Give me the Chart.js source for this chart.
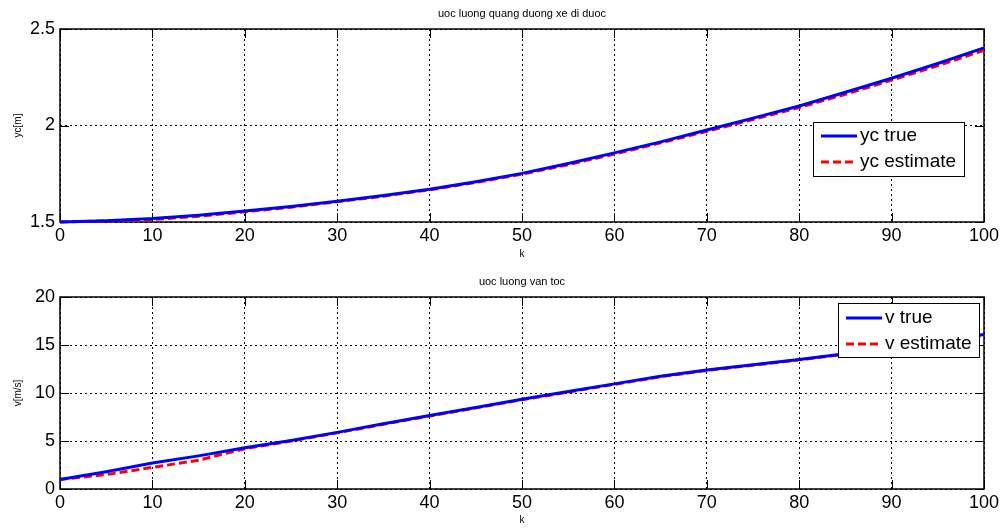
<!DOCTYPE html>
<html>
<head>
<meta charset="utf-8">
<script src="https://cdn.jsdelivr.net/npm/chart.js@4.4.0/dist/chart.umd.min.js"></script>
<style>
  html, body { margin: 0; padding: 0; background: #fff; }
  #wrap { position: relative; width: 1005px; height: 529px; }
  canvas { position: absolute; left: 0; }
  #top { top: 0; }
  #bot { top: 264px; }
</style>
</head>
<body>
<div id="wrap">
  <canvas id="top" width="1005" height="264"></canvas>
  <canvas id="bot" width="1005" height="265"></canvas>
</div>
<script>
// sample index k
const kSteps = [0, 5, 10, 15, 20, 25, 30, 35, 40, 45, 50, 55, 60, 65, 70, 75, 80, 85, 90, 95, 100];

// distance (yc) - true vs estimate
const ycTrue = [1.500, 1.507, 1.518, 1.535, 1.557, 1.580, 1.607, 1.637, 1.670, 1.709, 1.752,
                1.803, 1.858, 1.915, 1.977, 2.038, 2.101, 2.172, 2.245, 2.321, 2.402];
const ycEstimate = [1.500, 1.505, 1.513, 1.530, 1.553, 1.577, 1.605, 1.634, 1.667, 1.705, 1.748,
                    1.797, 1.852, 1.910, 1.970, 2.031, 2.093, 2.162, 2.235, 2.310, 2.390];

// velocity - true vs estimate
const vTrue = [1.0, 1.8, 2.7, 3.45, 4.3, 5.05, 5.9, 6.8, 7.65, 8.5, 9.35,
               10.15, 10.95, 11.75, 12.4, 12.95, 13.5, 14.1, 14.75, 15.4, 16.1];
const vEstimate = [1.0, 1.5, 2.25, 3.0, 4.2, 5.0, 5.85, 6.75, 7.6, 8.45, 9.3,
                   10.1, 10.9, 11.7, 12.35, 12.9, 13.45, 14.05, 14.7, 15.35, 16.0];

// tick labels
const kTicks = [0, 10, 20, 30, 40, 50, 60, 70, 80, 90, 100];
const ycTicks = [1.5, 2, 2.5];
const vTicks = [0, 5, 10, 15, 20];

Chart.defaults.font.family = '"Liberation Sans", Arial, sans-serif';
Chart.defaults.color = '#000';

// matlab-like box, inward ticks, title and in-axes legend
const matlabFrame = {
  id: 'matlabFrame',
  beforeDatasetsDraw(chart) {
    const { ctx, chartArea: a, scales } = chart;
    ctx.save();
    ctx.strokeStyle = '#000';
    ctx.setLineDash([]);
    ctx.lineWidth = 1;
    const tl = 9;
    ctx.beginPath();
    scales.x.ticks.forEach(t => {
      const px = Math.round(scales.x.getPixelForValue(t.value)) + 0.5;
      ctx.moveTo(px, a.bottom); ctx.lineTo(px, a.bottom - tl);
      ctx.moveTo(px, a.top); ctx.lineTo(px, a.top + tl);
    });
    scales.y.ticks.forEach(t => {
      const py = Math.round(scales.y.getPixelForValue(t.value)) + 0.5;
      ctx.moveTo(a.left, py); ctx.lineTo(a.left + tl, py);
      ctx.moveTo(a.right, py); ctx.lineTo(a.right - tl, py);
    });
    ctx.stroke();
    ctx.lineWidth = 1.5;
    ctx.strokeRect(a.left, a.top, a.right - a.left, a.bottom - a.top);
    ctx.restore();
  },
  afterDatasetsDraw(chart, args, opts) {
    const { ctx, chartArea: a } = chart;
    ctx.save();
    // title
    ctx.fillStyle = '#000';
    ctx.font = '11px "Liberation Sans", Arial, sans-serif';
    ctx.textAlign = 'center';
    ctx.textBaseline = 'middle';
    ctx.fillText(opts.title, (a.left + a.right) / 2, a.top - opts.titleGap);

    // legend
    const lg = opts.legend;
    const x0 = a.right - lg.right - lg.width;
    const y0 = a.top + lg.top;
    ctx.fillStyle = '#fff';
    ctx.fillRect(x0, y0, lg.width, lg.height);
    ctx.strokeStyle = '#000';
    ctx.lineWidth = 1;
    ctx.setLineDash([]);
    ctx.strokeRect(x0 + 0.5, y0 + 0.5, lg.width, lg.height);
    chart.data.datasets.forEach((ds, i) => {
      const cy = y0 + lg.rows[i];
      ctx.strokeStyle = ds.borderColor;
      ctx.lineWidth = ds.borderWidth;
      ctx.setLineDash(ds.borderDash || []);
      ctx.beginPath();
      ctx.moveTo(x0 + 8, cy);
      ctx.lineTo(x0 + 44, cy);
      ctx.stroke();
      ctx.setLineDash([]);
      ctx.fillStyle = '#000';
      ctx.font = '19px "Liberation Sans", Arial, sans-serif';
      ctx.textAlign = 'left';
      ctx.textBaseline = 'middle';
      ctx.fillText(ds.label, x0 + 47, cy);
    });
    ctx.restore();
  }
};

function makePlot(canvasId, cfg) {
  const pts = arr => kSteps.map((k, i) => ({ x: k, y: arr[i] }));
  return new Chart(document.getElementById(canvasId), {
    type: 'line',
    data: {
      datasets: [{
        label: cfg.labels[0],
        data: pts(cfg.trueVals),
        borderColor: '#0000ff',
        borderWidth: 3,
        pointRadius: 0,
        tension: 0,
        clip: false
      }, {
        label: cfg.labels[1],
        data: pts(cfg.estVals),
        borderColor: '#ff0000',
        borderWidth: 3,
        borderDash: [8, 4],
        pointRadius: 0,
        tension: 0,
        clip: false
      }]
    },
    options: {
      responsive: false,
      animation: false,
      events: [],
      layout: { padding: { top: cfg.padTop, right: 21, left: 0, bottom: 0 } },
      plugins: {
        legend: { display: false },
        tooltip: { enabled: false },
        matlabFrame: { title: cfg.title, titleGap: cfg.titleGap, legend: cfg.legend }
      },
      scales: {
        x: {
          type: 'linear',
          min: 0, max: 100,
          afterBuildTicks: s => { s.ticks = kTicks.map(v => ({ value: v })); },
          afterFit: s => { s.height = cfg.xHeight; },
          ticks: { font: { size: 18 }, color: '#000', padding: 3, maxRotation: 0, autoSkip: false },
          grid: { color: '#000', lineWidth: 1, drawTicks: false },
          border: { display: false, dash: [2, 3] },
          title: { display: true, text: 'k', font: { size: 10 }, padding: { top: 0, bottom: cfg.kPad } }
        },
        y: {
          min: cfg.yMin, max: cfg.yMax,
          afterBuildTicks: s => { s.ticks = cfg.yTicks.map(v => ({ value: v })); },
          afterFit: s => { s.width = 60; },
          ticks: { font: { size: 18 }, color: '#000', padding: 5, callback: v => String(v) },
          grid: { color: '#000', lineWidth: 1, drawTicks: false },
          border: { display: false, dash: [2, 3] },
          title: { display: true, text: cfg.yTitle, font: { size: 10 }, padding: { top: 12, bottom: 0 } }
        }
      }
    },
    plugins: [matlabFrame]
  });
}

makePlot('top', {
  labels: ['yc true', 'yc estimate'],
  trueVals: ycTrue,
  estVals: ycEstimate,
  yMin: 1.5, yMax: 2.5, yTicks: ycTicks,
  yTitle: 'yc[m]',
  title: 'uoc luong quang duong xe di duoc',
  titleGap: 15,
  padTop: 29,
  xHeight: 42,
  kPad: 4,
  legend: { right: 20, top: 93, width: 151, height: 54, rows: [14, 40] }
});

makePlot('bot', {
  labels: ['v true', 'v estimate'],
  trueVals: vTrue,
  estVals: vEstimate,
  yMin: 0, yMax: 20, yTicks: vTicks,
  yTitle: 'v[m/s]',
  title: 'uoc luong van toc',
  titleGap: 15,
  padTop: 33,
  xHeight: 40,
  kPad: 3,
  legend: { right: 5, top: 6, width: 141, height: 54, rows: [15, 41] }
});
</script>
</body>
</html>
